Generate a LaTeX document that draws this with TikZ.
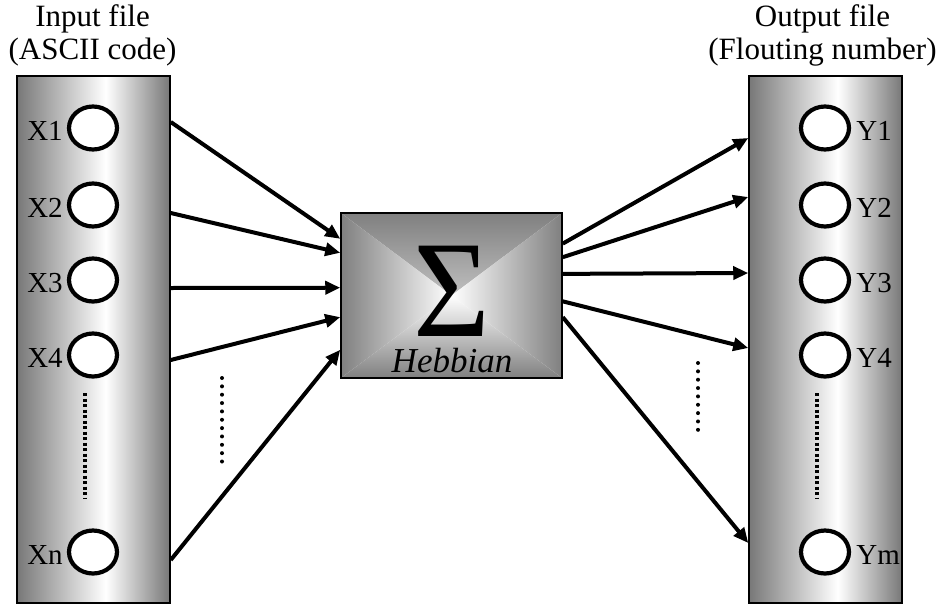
\documentclass[tikz,border=0pt]{standalone}
\usepackage{fontspec}
\setmainfont{Liberation Serif}
\usetikzlibrary{arrows.meta,shapes.geometric,positioning}
\definecolor{panelgray}{gray}{0.47}
\definecolor{boxgray}{gray}{0.5}
\pgfdeclarehorizontalshading{panelshade}{100bp}{color(0bp)=(panelgray); color(25bp)=(panelgray); color(54bp)=(white); color(75bp)=(panelgray); color(100bp)=(panelgray)}
\tikzset{
  io panel/.style={
    rectangle,
    minimum width=153pt,
    minimum height=527pt,
    inner sep=0pt,
    draw=black,
    line width=1.5pt,
    shade,
    shading=panelshade,
  },
  io unit/.style={
    ellipse,
    minimum width=48pt,
    minimum height=43pt,
    inner sep=0pt,
    draw=black,
    line width=4.2pt,
    fill=white,
  },
  io label/.style={font=\fontsize{29}{33}\selectfont, inner sep=0pt},
  io title/.style={font=\fontsize{31}{33}\selectfont, align=center, inner sep=0pt},
  hebb box/.style={
    rectangle,
    minimum width=221pt,
    minimum height=165pt,
    inner sep=0pt,
    draw=black,
    line width=1.5pt,
    path picture={
      \shade[top color=boxgray, bottom color=white] (path picture bounding box.north west) -- (path picture bounding box.north east) -- (path picture bounding box.center) -- cycle;
      \shade[top color=white, bottom color=boxgray] (path picture bounding box.south west) -- (path picture bounding box.south east) -- (path picture bounding box.center) -- cycle;
      \shade[left color=boxgray, right color=white] (path picture bounding box.north west) -- (path picture bounding box.south west) -- (path picture bounding box.center) -- cycle;
      \shade[left color=white, right color=boxgray] (path picture bounding box.north east) -- (path picture bounding box.south east) -- (path picture bounding box.center) -- cycle;
    },
  },
  hebb link/.style={-{Triangle[length=15pt,width=13pt]}, line width=4pt},
  unit dots/.style={line width=3.5pt, dash pattern=on 3.3pt off 2.2pt},
  gap dots/.style={line width=4pt, line cap=round, dash pattern=on 0pt off 8.35pt},
}

\begin{document}
\begin{tikzpicture}[x=1pt, y=-1pt]
  \useasboundingbox (0,0) rectangle (939,605);

  % input and output files
  \node[io panel] (inpanel) at (93.5,339.5) {};
  \node[io panel] (outpanel) at (825.5,339.5) {};
  \node[io title, above=9pt of inpanel, xshift=-1pt] (intitle) {Input file\\(ASCII code)};
  \node[io title, above=9pt of outpanel, xshift=-3pt] (outtitle) {Output file\\(Flouting number)};

  \foreach \i/\yy in {1/128, 2/205, 3/280, 4/355, n/552} {
    \node[io unit] (x\i) at (93,\yy) {};
    \node[io label, left=4pt of x\i, yshift=-3pt] (lx\i) {X\i};
  }
  \foreach \j/\yy in {1/128, 2/205, 3/280, 4/355, m/552} {
    \node[io unit] (y\j) at (825,\yy) {};
    \node[io label, right=5pt of y\j, yshift=-3pt] (ly\j) {Y\j};
  }
  \draw[unit dots] (85,393) -- (85,498);
  \draw[unit dots] (817,393) -- (817,498);

  % summing unit
  \node[hebb box] (hebb) at (451.5,295.5) {};
  \node[inner sep=0pt] (sigma) at (452,291.5) {\fontsize{120}{120}\selectfont\scalebox{1.1}[1.15]{Σ}};
  \node[anchor=base, inner sep=0pt, font=\fontsize{35}{35}\selectfont\itshape] (hebbname) at (452,372) {Hebbian};

  % connections
  \foreach \i/\sy/\ea in {1/6/153.3, 2/-8/159.9, 3/-8/176.1, 4/-5/191.5, n/-8/206.3}
    \draw[hebb link] ([yshift=\sy pt]x\i.center -| inpanel.east) -- (hebb.\ea);
  \foreach \j/\sa/\ey in {1/25.8/-10, 2/19.7/8, 3/11.5/7, 4/-3.4/7, m/-11.5/9}
    \draw[hebb link] (hebb.\sa) -- ([yshift=\ey pt]y\j.center -| outpanel.west);
  \draw[gap dots] (222,378) -- (222,462);
  \draw[gap dots] (698,363) -- (698,438);
\end{tikzpicture}
\end{document}
